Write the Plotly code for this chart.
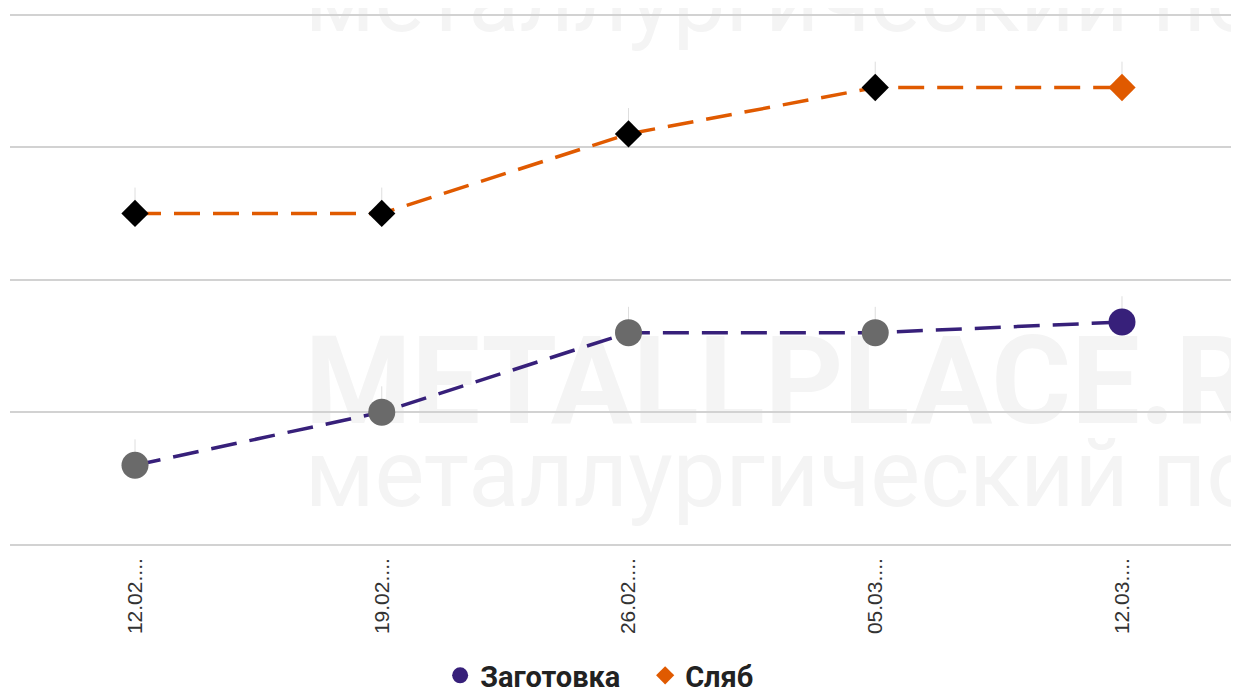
import plotly.graph_objects as go

# ---- data ----
dates = ["12.02....", "19.02....", "26.02....", "05.03....", "12.03...."]
billet = [572, 580, 592, 592, 593.6]      # Заготовка
slab = [610, 610, 622, 629, 629]          # Сляб
y_ticks = [560, 580, 600, 620, 640]
series_names = ["Заготовка", "Сляб"]

PURPLE = "#37207a"
ORANGE = "#e05a00"
GREY = "#6a6a6a"

x_idx = list(range(len(dates)))

fig = go.Figure()

def marker_colors(n, base, last):
    return [base] * (n - 1) + [last]

whisker = dict(type="data", symmetric=False, array=[3.9] * len(dates),
               arrayminus=[0] * len(dates), color="#dedede", thickness=1, width=0)

fig.add_trace(go.Scatter(
    x=x_idx, y=slab, mode="lines+markers", showlegend=False,
    line=dict(color=ORANGE, width=3.5, dash="26px,13px"),
    marker=dict(symbol="diamond", size=21, color=marker_colors(len(slab), "#000000", ORANGE),
                line=dict(width=0)),
    error_y=whisker, name=series_names[1]))

fig.add_trace(go.Scatter(
    x=x_idx, y=billet, mode="lines+markers", showlegend=False,
    line=dict(color=PURPLE, width=3.5, dash="26px,13px"),
    marker=dict(symbol="circle", size=27, color=marker_colors(len(billet), GREY, PURPLE),
                line=dict(width=0)),
    error_y=whisker, name=series_names[0]))

# legend-only entries
fig.add_trace(go.Scatter(x=[None], y=[None], mode="markers", name=series_names[0],
                         marker=dict(symbol="circle", size=19, color=PURPLE)))
fig.add_trace(go.Scatter(x=[None], y=[None], mode="markers", name=series_names[1],
                         marker=dict(symbol="diamond", size=14, color=ORANGE)))

WM = "#f4f4f4"
shapes = [
    dict(type="rect", xref="paper", yref="paper", x0=0.235, x1=1.3, y0=0.25, y1=0.40,
         layer="below", line=dict(width=0), fillcolor="rgba(0,0,0,0)",
         label=dict(text="<b>METALLPLACE.RU</b>", textposition="middle left",
                    font=dict(family="Roboto", size=122, color=WM))),
    dict(type="rect", xref="paper", yref="paper", x0=0.235, x1=1.3, y0=0.08, y1=0.22,
         layer="below", line=dict(width=0), fillcolor="rgba(0,0,0,0)",
         label=dict(text="металлургический портал", textposition="middle left",
                    font=dict(family="Roboto", size=94, color=WM))),
    dict(type="rect", xref="paper", yref="paper", x0=0.235, x1=1.3, y0=0.955, y1=1.105,
         layer="below", line=dict(width=0), fillcolor="rgba(0,0,0,0)",
         label=dict(text="металлургический портал", textposition="middle left",
                    font=dict(family="Roboto", size=94, color=WM))),
]

fig.update_layout(
    width=1231, height=710,
    margin=dict(l=2, r=0, t=0, b=170),
    paper_bgcolor="white", plot_bgcolor="white",
    shapes=shapes,
    showlegend=True,
    legend=dict(orientation="h", x=0.350, xanchor="left", y=-0.236, yanchor="middle",
                font=dict(family="Roboto", size=29, color="#222222", weight="bold"),
                itemsizing="trace", entrywidth=160, entrywidthmode="pixels"),
    xaxis=dict(range=[-0.5066, 4.4742], tickmode="array", tickvals=x_idx, ticktext=dates,
               tickangle=-90, showgrid=False, zeroline=False, showline=False, ticks="",
               tickfont=dict(family="Liberation Sans", size=21, color="#333333"),
               ticklabelstandoff=5),
    yaxis=dict(range=[559.5, 641], tickmode="array", tickvals=y_ticks, showticklabels=False,
               showgrid=True, gridcolor="#d2d2d2", gridwidth=2, zeroline=False, showline=False,
               ticks=""),
)

fig.write_html("out.html")
